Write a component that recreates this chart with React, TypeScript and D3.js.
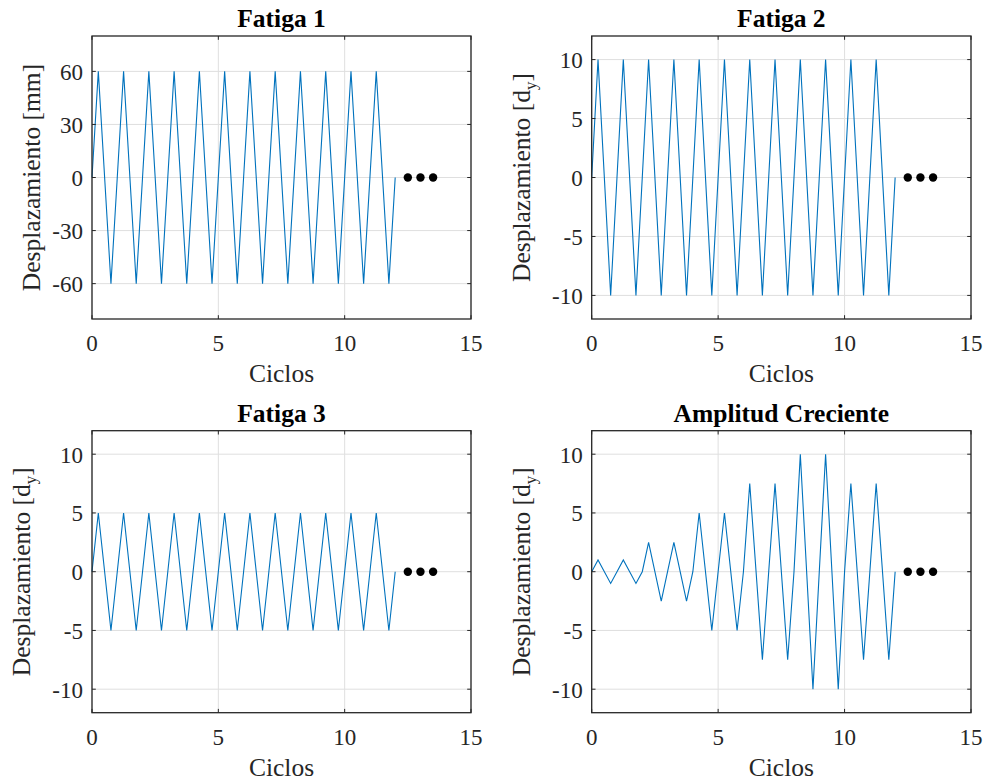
import React from "react";
import * as d3 from "d3";

const ciclos = [
  0, 0.25, 0.75, 1, 1.25, 1.75, 2, 2.25, 2.75, 3, 3.25, 3.75, 4, 4.25, 4.75,
  5, 5.25, 5.75, 6, 6.25, 6.75, 7, 7.25, 7.75, 8, 8.25, 8.75, 9, 9.25, 9.75,
  10, 10.25, 10.75, 11, 11.25, 11.75, 12,
];

const fatiga1 = [
  0, 60, -60, 0, 60, -60, 0, 60, -60, 0, 60, -60, 0, 60, -60, 0, 60, -60, 0,
  60, -60, 0, 60, -60, 0, 60, -60, 0, 60, -60, 0, 60, -60, 0, 60, -60, 0,
];

const fatiga2 = [
  0, 10, -10, 0, 10, -10, 0, 10, -10, 0, 10, -10, 0, 10, -10, 0, 10, -10, 0,
  10, -10, 0, 10, -10, 0, 10, -10, 0, 10, -10, 0, 10, -10, 0, 10, -10, 0,
];

const fatiga3 = [
  0, 5, -5, 0, 5, -5, 0, 5, -5, 0, 5, -5, 0, 5, -5, 0, 5, -5, 0, 5, -5, 0, 5,
  -5, 0, 5, -5, 0, 5, -5, 0, 5, -5, 0, 5, -5, 0,
];

const creciente = [
  0, 1, -1, 0, 1, -1, 0, 2.5, -2.5, 0, 2.5, -2.5, 0, 5, -5, 0, 5, -5, 0, 7.5,
  -7.5, 0, 7.5, -7.5, 0, 10, -10, 0, 10, -10, 0, 7.5, -7.5, 0, 7.5, -7.5, 0,
];

const puntosX = [12.5, 13, 13.5];
const puntosY = [0, 0, 0];

const xTicks = [0, 5, 10, 15];
const yTicksMm = [-60, -30, 0, 30, 60];
const yTicksDy = [-10, -5, 0, 5, 10];

const titles = ["Fatiga 1", "Fatiga 2", "Fatiga 3", "Amplitud Creciente"];

const FONT = "'Liberation Serif', 'Times New Roman', 'DejaVu Serif', serif";
const AX = "#262626";
const GRID = "#dfdfdf";
const LINE = "#0072BD";

type PanelProps = {
  x0: number;
  x1: number;
  y0: number;
  y1: number;
  ydom: [number, number];
  yTicks: number[];
  values: number[];
  title: string;
  unit: "mm" | "dy";
  labelX: number;
};

function Panel({ x0, x1, y0, y1, ydom, yTicks, values, title, unit, labelX }: PanelProps) {
  const x = d3.scaleLinear().domain([0, 15]).range([x0, x1]);
  const y = d3.scaleLinear().domain(ydom).range([y1, y0]);
  const line = d3
    .line<number>()
    .x((_, i) => x(ciclos[i]))
    .y((d) => y(d));
  const tl = 3.8;
  const cy = (y0 + y1) / 2;
  return (
    <g>
      {xTicks.map((t) => (
        <line key={"gx" + t} x1={x(t)} x2={x(t)} y1={y0} y2={y1} stroke={GRID} strokeWidth={1} />
      ))}
      {yTicks.map((t) => (
        <line key={"gy" + t} x1={x0} x2={x1} y1={y(t)} y2={y(t)} stroke={GRID} strokeWidth={1} />
      ))}
      <path d={line(values) || ""} fill="none" stroke={LINE} strokeWidth={1.1} strokeLinejoin="miter" />
      {puntosX.map((px, i) => (
        <circle key={"p" + i} cx={x(px)} cy={y(puntosY[i])} r={4.2} fill="#000" />
      ))}
      {xTicks.map((t) => (
        <g key={"tx" + t}>
          <line x1={x(t)} x2={x(t)} y1={y1} y2={y1 - tl} stroke={AX} strokeWidth={1} />
          <line x1={x(t)} x2={x(t)} y1={y0} y2={y0 + tl} stroke={AX} strokeWidth={1} />
          <text x={x(t)} y={y1 + 32} textAnchor="middle" fontFamily={FONT} fontSize={23} fill={AX}>
            {t}
          </text>
        </g>
      ))}
      {yTicks.map((t) => (
        <g key={"ty" + t}>
          <line x1={x0} x2={x0 + tl} y1={y(t)} y2={y(t)} stroke={AX} strokeWidth={1} />
          <line x1={x1} x2={x1 - tl} y1={y(t)} y2={y(t)} stroke={AX} strokeWidth={1} />
          <text x={x0 - 9} y={y(t) + 8.5} textAnchor="end" fontFamily={FONT} fontSize={23} fill={AX}>
            {t}
          </text>
        </g>
      ))}
      <rect x={x0} y={y0} width={x1 - x0} height={y1 - y0} fill="none" stroke={AX} strokeWidth={1.3} />
      <text
        x={(x0 + x1) / 2}
        y={y0 - 9}
        textAnchor="middle"
        fontFamily={FONT}
        fontWeight="bold"
        fontSize={25.5}
        fill="#000"
      >
        {title}
      </text>
      <text x={(x0 + x1) / 2} y={y1 + 63} textAnchor="middle" fontFamily={FONT} fontSize={25.5} fill={AX}>
        Ciclos
      </text>
      <text
        transform={`translate(${labelX},${cy}) rotate(-90)`}
        textAnchor="middle"
        fontFamily={FONT}
        fontSize={25.5}
        fill={AX}
      >
        {unit === "mm" ? (
          "Desplazamiento [mm]"
        ) : (
          <>
            {"Desplazamiento [d"}
            <tspan fontSize={17} dy={6}>
              y
            </tspan>
            <tspan dy={-6}>]</tspan>
          </>
        )}
      </text>
    </g>
  );
}

export default function App() {
  const L = [92, 471];
  const R = [591.7, 971];
  const T = [36, 319];
  const B = [430.7, 712.7];
  return (
    <div>
      <style>{`body{margin:0}`}</style>
      <svg width={987} height={783} style={{ display: "block", background: "#fff" }}>
        <rect width={987} height={783} fill="#fff" />
        <Panel x0={L[0]} x1={L[1]} y0={T[0]} y1={T[1]} ydom={[-80, 80]} yTicks={yTicksMm} values={fatiga1} title={titles[0]} unit="mm" labelX={40} />
        <Panel x0={R[0]} x1={R[1]} y0={T[0]} y1={T[1]} ydom={[-12, 12]} yTicks={yTicksDy} values={fatiga2} title={titles[1]} unit="dy" labelX={530} />
        <Panel x0={L[0]} x1={L[1]} y0={B[0]} y1={B[1]} ydom={[-12, 12]} yTicks={yTicksDy} values={fatiga3} title={titles[2]} unit="dy" labelX={30} />
        <Panel x0={R[0]} x1={R[1]} y0={B[0]} y1={B[1]} ydom={[-12, 12]} yTicks={yTicksDy} values={creciente} title={titles[3]} unit="dy" labelX={530} />
      </svg>
    </div>
  );
}
